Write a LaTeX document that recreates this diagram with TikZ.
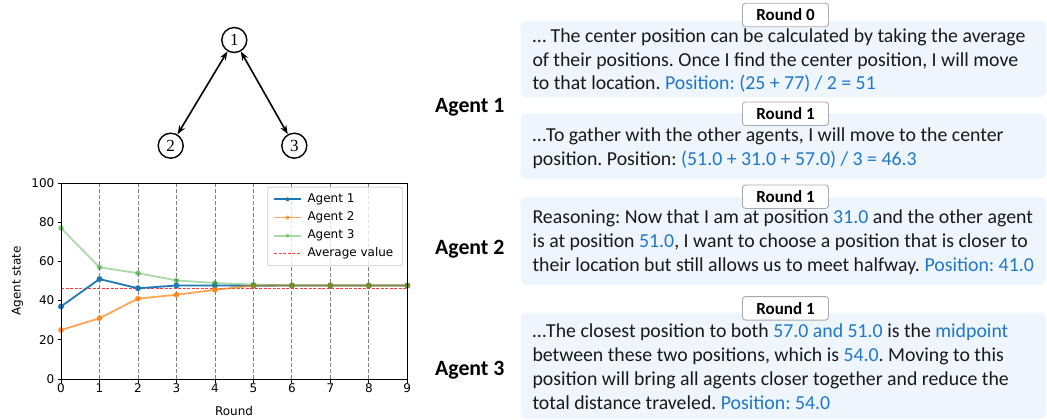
\documentclass[tikz,border=0pt]{standalone}
\usepackage{fontspec}
\setmainfont{Carlito}
\newfontfamily\dvs{DejaVu Sans}
\newfontfamily\tms{Liberation Serif}
\usetikzlibrary{arrows.meta}
\definecolor{txtblue}{RGB}{31,120,200}
\definecolor{boxfill}{RGB}{238,245,253}
\definecolor{tabblue}{HTML}{1F77B4}
\definecolor{taborange}{HTML}{FF7F0E}
\definecolor{tabgreen}{HTML}{2CA02C}
\definecolor{taggray}{RGB}{170,170,170}
\definecolor{txtdark}{RGB}{25,25,25}
\definecolor{avgred}{RGB}{255,60,60}
\newcommand{\hlb}[1]{\textcolor{txtblue}{#1}}
\frenchspacing
\begin{document}
\begin{tikzpicture}[x=1bp,y=-1bp,
  gnode/.style={circle,draw,line width=1.4bp,minimum size=25bp,inner sep=0,font=\tms\fontsize{17bp}{17bp}\selectfont},
  garrow/.style={{Stealth[length=9bp,width=6.5bp]}-{Stealth[length=9bp,width=6.5bp]},line width=1.6bp},
  msgbox/.style={fill=boxfill,rounded corners=6bp},
  roundtag/.style={draw=taggray,fill=white,rounded corners=3bp,line width=0.9bp,minimum width=86bp,minimum height=23.5bp,inner sep=0,font=\bfseries\fontsize{17bp}{17bp}\selectfont},
  msg/.style={anchor=base west,inner sep=0,text=txtdark,font=\fontsize{19.8bp}{22bp}\selectfont},
  agentlbl/.style={anchor=base west,inner sep=0,font=\bfseries\fontsize{21.8bp}{22bp}\selectfont},
  ticklbl/.style={font=\dvs\fontsize{12bp}{12bp}\selectfont,inner sep=0},
  gridln/.style={gray,dash pattern=on 4bp off 2bp,line width=0.8bp},
  avgln/.style={draw=avgred,dash pattern=on 3bp off 1.5bp,line width=1.2bp},
]
\useasboundingbox (0,0) rectangle (1047,419);

% ---------- graph ----------
\node[gnode] (n1) at (234.3,40) {1};
\node[gnode] (n2) at (170.7,145.7) {2};
\node[gnode] (n3) at (294.3,145.7) {3};
\draw[garrow] (n1) -- (n2);
\draw[garrow] (n1) -- (n3);

% ---------- plot ----------
\begin{scope}[xshift=61bp,yshift=-379bp,x=38.478bp,y=1.96bp]
  \foreach \i in {1,...,8} \draw[gridln] (\i,0) -- (\i,100);
  \draw[avgln] (0,46.33) -- (9,46.33);
  \draw[tabblue,line width=1.8bp] plot[mark=*,mark size=2bp] coordinates {(0,37) (1,51) (2,46.3) (3,47.7) (4,47.7) (5,47.6) (6,47.7) (7,47.7) (8,47.7) (9,47.7)};
  \draw[taborange,opacity=0.7,line width=1.8bp] plot[mark=*,mark size=2bp] coordinates {(0,25) (1,31) (2,41) (3,43) (4,45.5) (5,47.7) (6,47.7) (7,47.7) (8,47.7) (9,47.7)};
  \draw[tabgreen,opacity=0.4,line width=1.8bp] plot[mark=*,mark size=2bp] coordinates {(0,77) (1,57) (2,54) (3,50.3) (4,49) (5,48.2) (6,47.7) (7,47.7) (8,47.7) (9,47.7)};
  \draw[line width=0.9bp] (0,0) rectangle (9,100);
  \foreach \v in {0,20,40,60,80,100} {
    \draw[line width=0.8bp] (0,\v) -- ++(-3.5bp,0);
    \node[ticklbl,anchor=east] (yt\v) at ([xshift=-6.5bp]0,\v) {\v};
  }
  \foreach \i in {0,...,9} {
    \draw[line width=0.8bp] (\i,0) -- ++(0,-3.5bp);
    \node[ticklbl,anchor=north] (xt\i) at ([yshift=-4.5bp]\i,0) {\i};
  }
\end{scope}
\node[ticklbl,anchor=base] (xlab) at (234,415) {Round};
\node[ticklbl,anchor=base,rotate=90] (ylab) at (20.7,280.8) {Agent state};

% legend
\fill[white,opacity=0.8] (267.7,187.3) rectangle (402.3,265.7);
\draw[gray!40,rounded corners=2bp,line width=0.8bp] (267.7,187.3) rectangle (402.3,265.7);
\draw[tabblue,line width=1.8bp] (274.3,199.3) -- (300.7,199.3);
\fill[tabblue] (287.5,199.3) circle (2bp);
\draw[taborange,opacity=0.7,line width=1.8bp] (274.3,217.5) -- (300.7,217.5);
\fill[taborange,opacity=0.7] (287.5,217.5) circle (2bp);
\draw[tabgreen,opacity=0.4,line width=1.8bp] (274.3,235.6) -- (300.7,235.6);
\fill[tabgreen,opacity=0.4] (287.5,235.6) circle (2bp);
\foreach \k in {0,...,5} \fill[avgred] (274.3+\k*4.5,252.9) rectangle ++(3,1.3);
\node[ticklbl,anchor=west] (lg1) at (307.3,199.3) {Agent 1};
\node[ticklbl,anchor=west] (lg2) at (307.3,217.5) {Agent 2};
\node[ticklbl,anchor=west] (lg3) at (307.3,235.6) {Agent 3};
\node[ticklbl,anchor=west] (lg4) at (307.3,253.5) {Average value};

% ---------- agent labels ----------
\node[agentlbl] (ag1) at (435,112.7) {Agent 1};
\node[agentlbl] (ag2) at (435,254.3) {Agent 2};
\node[agentlbl] (ag3) at (435,375) {Agent 3};

% ---------- message boxes ----------
\fill[msgbox] (520.7,20.7) rectangle (1046,97.3);
\fill[msgbox] (520.7,113.3) rectangle (1046,179);
\fill[msgbox] (520.7,197) rectangle (1046,285);
\fill[msgbox] (520.7,312.7) rectangle (1046,418.5);

\node[roundtag] (r0) at (785.5,15) {Round 0};
\node[roundtag] (r1a) at (785.5,113.7) {Round 1};
\node[roundtag] (r1b) at (785.5,196.7) {Round 1};
\node[roundtag] (r1c) at (785.5,308.3) {Round 1};

\node[msg] (m11) at (532.3,42.6) {… The center position can be calculated by taking the average};
\node[msg] (m12) at (532.3,66.2) {of their positions. Once I find the center position, I will move};
\node[msg] (m13) at (532.3,89.9) {to that location. \hlb{Position: (25 + 77) / 2 = 51}};

\node[msg] (m21) at (532.3,141.7) {…To gather with the other agents, I will move to the center};
\node[msg] (m22) at (532.3,165) {position. Position: \hlb{(51.0 + 31.0 + 57.0) / 3 = 46.3}};

\node[msg] (m31) at (532.3,223.3) {Reasoning: Now that I am at position \hlb{31.0} and the other agent};
\node[msg] (m32) at (532.3,247.5) {is at position \hlb{51.0}, I want to choose a position that is closer to};
\node[msg] (m33) at (532.3,271.7) {their location but still allows us to meet halfway. \hlb{Position: 41.0}};

\node[msg] (m41) at (532.3,337.3) {…The closest position to both \hlb{57.0 and 51.0} is the \hlb{midpoint}};
\node[msg] (m42) at (532.3,361.5) {between these two positions, which is \hlb{54.0}. Moving to this};
\node[msg] (m43) at (532.3,385.7) {position will bring all agents closer together and reduce the};
\node[msg] (m44) at (532.3,409.5) {total distance traveled. \hlb{Position: 54.0}};
\end{tikzpicture}
\end{document}
